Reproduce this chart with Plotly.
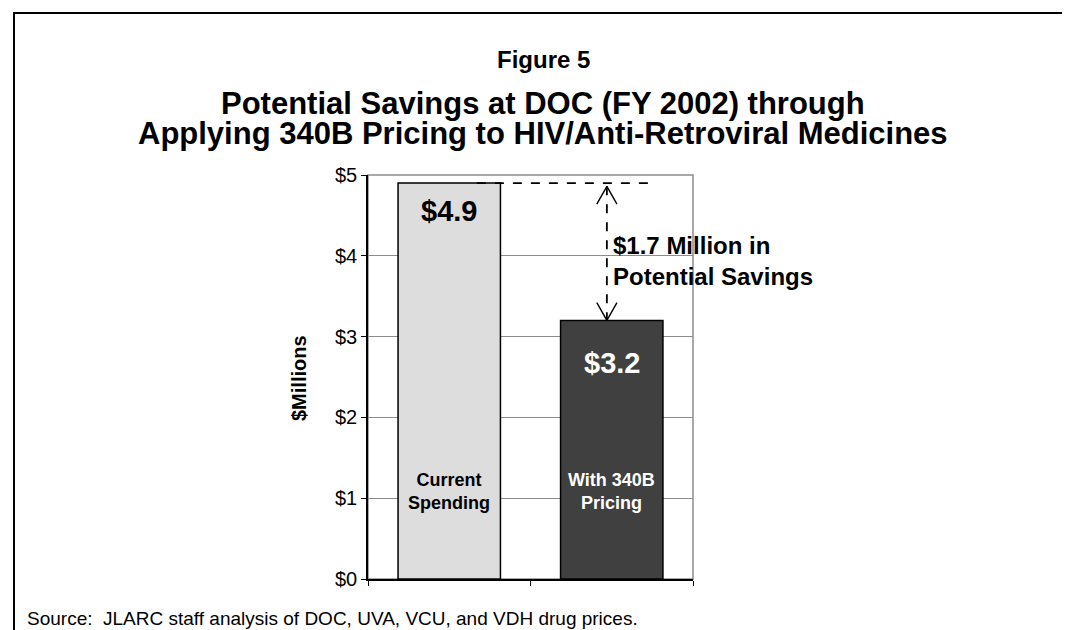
import plotly.graph_objects as go

# ---- data ----
categories = ["Current<br>Spending", "With 340B<br>Pricing"]
values = [4.9, 3.2]
value_labels = ["$4.9", "$3.2"]
bar_colors = ["#DDDDDD", "#404040"]
label_colors = ["black", "white"]
y_ticks = [0, 1, 2, 3, 4, 5]
y_tick_labels = ["$0", "$1", "$2", "$3", "$4", "$5"]

W, H = 1070, 630
L, R, T, B = 360, 685, 167, 571  # plot area in pixels


def px(xpix):
    return (xpix - L) / (R - L)


def py(ypix):
    return (B - ypix) / (B - T)


FONT = "Liberation Sans, Arial, sans-serif"
NARROW = "Liberation Sans Narrow, Arial Narrow, Liberation Sans, sans-serif"

fig = go.Figure()
xs = list(range(len(values)))
fig.add_trace(go.Bar(
    x=xs, y=values, width=0.63,
    marker=dict(color=bar_colors, line=dict(color="black", width=1.5)),
    hoverinfo="skip", showlegend=False,
))

# dashed reference line at top of first bar
fig.add_trace(go.Scatter(
    x=[0.17, 1.27], y=[values[0], values[0]], mode="lines",
    line=dict(color="black", width=1.8, dash="dash"),
    hoverinfo="skip", showlegend=False,
))

# dashed double arrow between the two values
ax = 0.97
top = values[0] - 0.04
bot = values[1]
fig.add_trace(go.Scatter(
    x=[ax, ax], y=[top, bot], mode="lines",
    line=dict(color="black", width=1.8, dash="dash"),
    hoverinfo="skip", showlegend=False,
))
hw, hh = 0.062, 0.22
fig.add_trace(go.Scatter(
    x=[ax - hw, ax, ax + hw, None, ax - hw, ax, ax + hw],
    y=[top - hh, top, top - hh, None, bot + hh, bot, bot + hh],
    mode="lines", line=dict(color="black", width=1.4),
    hoverinfo="skip", showlegend=False,
))

annotations = []
# value labels
shifts = [-28, -43]
for i, (v, lab) in enumerate(zip(values, value_labels)):
    annotations.append(dict(
        x=i, y=v, xref="x", yref="y", text="<b>%s</b>" % lab, showarrow=False,
        yanchor="middle", yshift=shifts[i],
        font=dict(family=FONT, size=29, color=label_colors[i]),
    ))
# category labels inside bars
for i, c in enumerate(categories):
    annotations.append(dict(
        x=i, y=py(483), xref="x", yref="paper", text="<b>%s</b>" % c,
        showarrow=False, yanchor="middle",
        font=dict(family=NARROW, size=18, color=label_colors[i]),
    ))
# savings annotation
savings = values[0] - values[1]
annotations.append(dict(
    x=px(603), y=py(253), xref="paper", yref="paper", xanchor="left",
    yanchor="middle", align="left", showarrow=False,
    text="<b>$%.1f Million in<br>Potential Savings</b>" % savings,
    font=dict(family=FONT, size=24, color="black"),
))
# titles
annotations.append(dict(
    x=px(535), y=py(52), xref="paper", yref="paper", showarrow=False,
    text="<b>Figure 5</b>", yanchor="middle",
    font=dict(family=FONT, size=24, color="black"),
))
annotations.append(dict(
    x=px(535), y=py(95), xref="paper", yref="paper", showarrow=False,
    text="<b>Potential Savings at DOC (FY 2002) through</b>", yanchor="middle",
    font=dict(family=FONT, size=31, color="black"),
))
annotations.append(dict(
    x=px(535), y=py(126), xref="paper", yref="paper", showarrow=False,
    text="<b>Applying 340B Pricing to HIV/Anti-Retroviral Medicines</b>",
    yanchor="middle",
    font=dict(family=FONT, size=31, color="black"),
))
# y axis title
annotations.append(dict(
    x=px(291), y=py(370), xref="paper", yref="paper", showarrow=False,
    text="<b>$Millions</b>", textangle=-90, xanchor="center", yanchor="middle",
    font=dict(family=FONT, size=20, color="black"),
))
# source
annotations.append(dict(
    x=px(17), y=py(610), xref="paper", yref="paper", showarrow=False,
    text="Source:  JLARC staff analysis of DOC, UVA, VCU, and VDH drug prices.",
    xanchor="left", yanchor="middle",
    font=dict(family=FONT, size=19, color="black"),
))

shapes = [
    # outer frame (bottom edge lies off-page)
    dict(type="rect", xref="paper", yref="paper",
         x0=px(6), x1=px(1064), y0=py(660), y1=py(5),
         line=dict(color="black", width=2), layer="above"),
    # plot border (gray)
    dict(type="rect", xref="paper", yref="paper", x0=0, x1=1, y0=0, y1=1,
         line=dict(color="#8C8C8C", width=1.5), layer="below"),
]

fig.update_layout(
    width=W, height=H,
    margin=dict(l=L, r=W - R, t=T, b=H - B, pad=0),
    paper_bgcolor="white", plot_bgcolor="white",
    bargap=0.37,
    xaxis=dict(range=[-0.5, 1.5], tickvals=[-0.5, 0.5, 1.5],
               ticktext=["", "", ""], ticks="outside", ticklen=5,
               tickcolor="black", showline=True, linecolor="black",
               linewidth=1.5, showgrid=False, zeroline=False, fixedrange=True),
    yaxis=dict(range=[0, 5], tickvals=y_ticks, ticktext=y_tick_labels,
               ticks="outside", ticklen=5, tickcolor="black", showline=True,
               linecolor="black", linewidth=1.5, gridcolor="#8C8C8C",
               gridwidth=1, zeroline=False, fixedrange=True,
               tickfont=dict(family=FONT, size=20, color="black")),
    annotations=annotations,
    shapes=shapes,
    font=dict(family=FONT, color="black"),
)

fig.write_html("out.html")
